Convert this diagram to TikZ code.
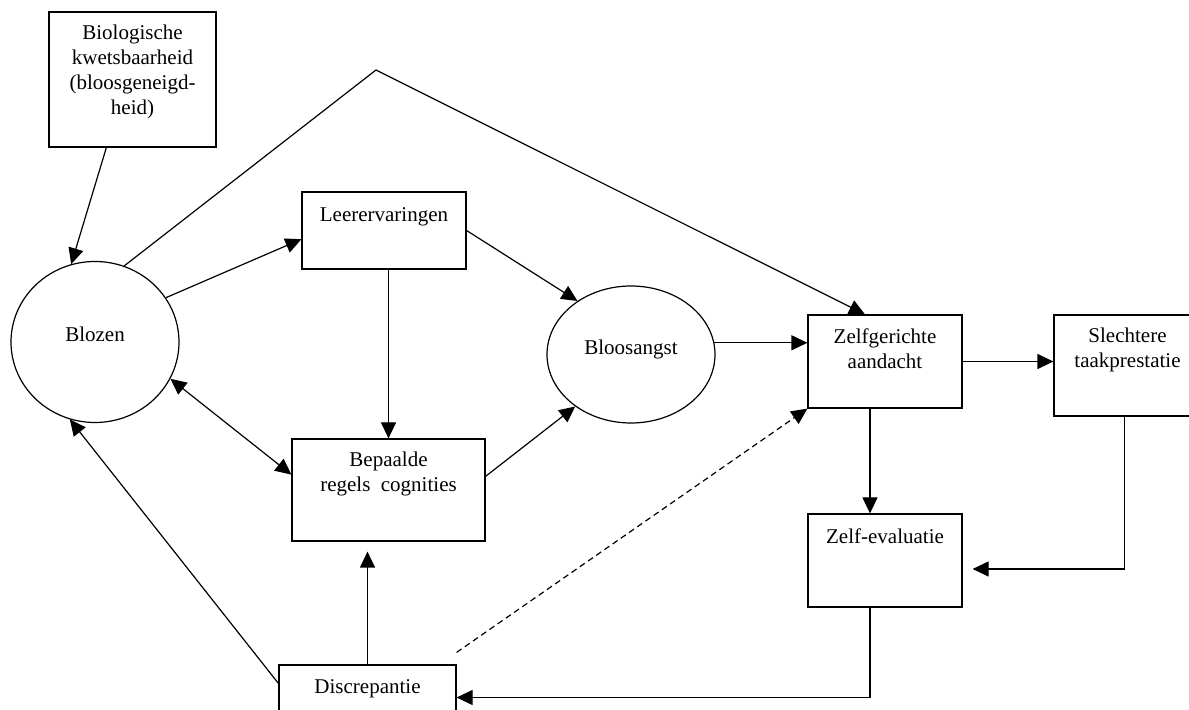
\documentclass[tikz,border=0pt]{standalone}
\usepackage{fontspec}
\setmainfont{Liberation Serif}
\usetikzlibrary{positioning,arrows.meta,calc,shapes.geometric}

\begin{document}
\begin{tikzpicture}[
  x=0.5pt, y=-0.5pt,
  font=\fontsize{10.5}{12.5}\selectfont,
  line width=0.6pt,
  >={Triangle[length=8pt,width=7.5pt]},
  boxnode/.style={rectangle, draw, inner sep=0pt},
  ovalnode/.style={ellipse, draw, inner sep=0pt},
  textnode/.style={align=center, inner sep=0pt, outer sep=0pt}
  ]
  \useasboundingbox (0,0) rectangle (1189,710);

  % Boxes and ovals
  \node[boxnode, minimum width=83.5pt, minimum height=67.5pt]  (bio)      at (132.5,79.5)  {};
  \node[ovalnode, minimum width=84pt, minimum height=80.5pt]   (blozen)   at (95,342)      {};
  \node[boxnode, minimum width=82pt, minimum height=38.5pt]    (leer)     at (384,230.5)   {};
  \node[boxnode, minimum width=96.5pt, minimum height=51pt]    (bepaalde) at (388.5,490)   {};
  \node[ovalnode, minimum width=84pt, minimum height=68.5pt]   (bloos)    at (631,354.5)   {};
  \node[boxnode, minimum width=77pt, minimum height=46.5pt]    (zelfg)    at (885,361.5)   {};
  \node[boxnode, minimum width=73.5pt, minimum height=50.5pt]  (slecht)   at (1127.5,365.5) {};
  \node[boxnode, minimum width=77pt, minimum height=46.5pt]    (zelfev)   at (885,560.5)   {};
  \node[boxnode, minimum width=88.5pt, minimum height=32.5pt]  (discr)    at (367.5,697.5) {};

  % Texts
  \node[textnode]  (biotext)      [below=7pt of bio.north]      {Biologische\\kwetsbaarheid\\(bloosgeneigd-\\heid)};
  \node[textnode, anchor=base] (blozentext) at (blozen.center)  {Blozen};
  \node[textnode]  (leertext)     [below=8pt of leer.north]     {Leerervaringen};
  \node[textnode]  (bepaaldetext) [below=7pt of bepaalde.north] {Bepaalde\\regels\ \ cognities};
  \node[textnode, anchor=base] (bloostext)  at (bloos.center)   {Bloosangst};
  \node[textnode]  (zelfgtext)    [below=7pt of zelfg.north]    {Zelfgerichte\\aandacht};
  \node[textnode]  (slechttext)   [below=7pt of slecht.north]   {Slechtere\\taakprestatie};
  \node[textnode]  (zelfevtext)   [below=7.5pt of zelfev.north] {Zelf-evaluatie};
  \node[textnode]  (discrtext)    [below=7.5pt of discr.north]  {Discrepantie};

  % Connectors
  \coordinate (apex) at (376,70);
  \coordinate (dashstart) at ($(discr.north east)+(0,-12)$);
  \draw[->] (bio.249) -- (blozen.107);
  \draw[->] (blozen.69) -- (apex) -- (zelfg.113);
  \draw[->] (blozen.32) -- (leer.186);
  \draw[->] (bepaalde.north |- leer.south) -- (bepaalde.north);
  \draw[<->] (blozen.-26) -- (bepaalde.171);
  \draw[->] (leer.east) -- (bloos.135);
  \draw[->] (bepaalde.8) -- (bloos.223);
  \draw[->] (bloos.8) -- (bloos.8 -| zelfg.west);
  \draw[->] (zelfg.east) -- (zelfg.east -| slecht.west);
  \draw[->] ([xshift=-7.5pt]zelfg.south) -- ([xshift=-7.5pt]zelfev.north);
  \draw[->] ([xshift=-1.5pt]slecht.south) |- ($(zelfev.east)+(10,8.5)$);
  \draw[->] ([xshift=-7.5pt]zelfev.south) |- (discr.east);
  \draw[->] (discr.north) -- ($(bepaalde.south -| discr.north)+(0,10)$);
  \draw[->] (discr.171) -- (blozen.252);
  \draw[->, dash pattern=on 3pt off 2pt] (dashstart) -- (zelfg.south west);
\end{tikzpicture}
\end{document}
